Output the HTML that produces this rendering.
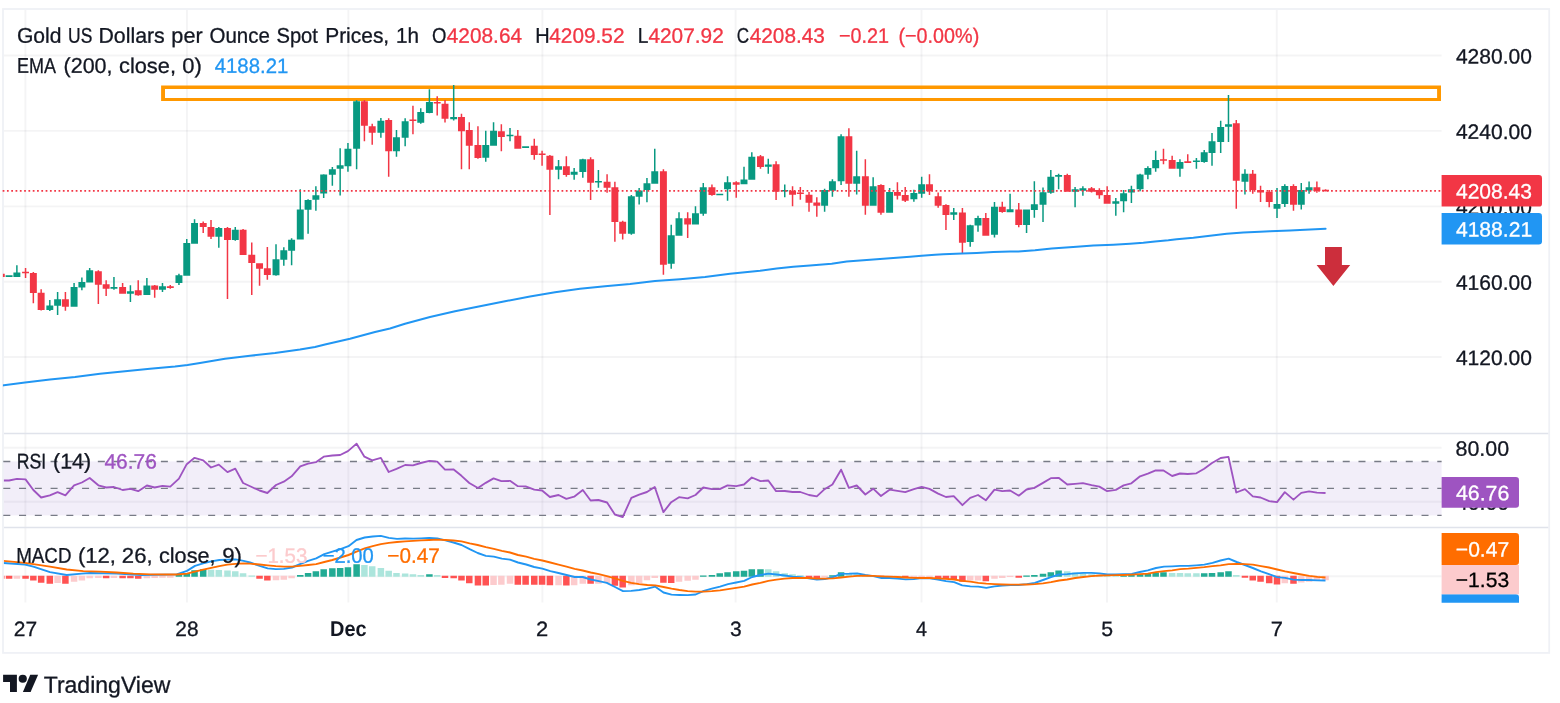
<!DOCTYPE html>
<html lang="en">
<head>
<meta charset="utf-8">
<title>Gold US Dollars per Ounce Spot Prices, 1h - TradingView</title>
<style>
html,body{margin:0;padding:0;background:#ffffff;}
body{width:1560px;height:703px;overflow:hidden;font-family:'Liberation Sans',sans-serif;}
svg{display:block;}
text{white-space:pre;}
</style>
</head>
<body>
<svg width="1560" height="703" viewBox="0 0 1560 703" font-family="'Liberation Sans', sans-serif">
<rect width="1560" height="703" fill="#ffffff"/>
<rect x="3" y="9" width="1546.2" height="643.9" fill="none" stroke="#eff1f6" stroke-width="1.8"/>
<path d="M25.4 10V602.6M186.95 10V602.6M348.35 10V602.6M542.4 10V602.6M735.6 10V602.6M921.5 10V602.6M1107 10V602.6M1276.8 10V602.6" stroke="#2a2e39" stroke-opacity="0.052" stroke-width="1.9" fill="none"/>
<path d="M4 55.5H1441.6M4 130.9H1441.6M4 206.4H1441.6M4 281.7H1441.6M4 357H1441.6M4 447.8H1441.6M4 501.7H1441.6M4 576.3H1441.6" stroke="#2a2e39" stroke-opacity="0.052" stroke-width="1.9" fill="none"/>
<path d="M4 433.5H1548.3M4 527.5H1548.3" stroke="#e0e3eb" stroke-width="1.5" fill="none"/>
<g><g transform="skewY(0.05)"><text font-size="20.8" fill="#131722" stroke="#131722" stroke-width="0.3" x="1455.93" y="62.196" textLength="75.98" lengthAdjust="spacingAndGlyphs">4280.00</text>
<text font-size="20.8" fill="#131722" stroke="#131722" stroke-width="0.3" x="1455.93" y="137.596" textLength="75.98" lengthAdjust="spacingAndGlyphs">4240.00</text>
<text font-size="20.8" fill="#131722" stroke="#131722" stroke-width="0.3" x="1455.93" y="213.096" textLength="75.98" lengthAdjust="spacingAndGlyphs">4200.00</text>
<text font-size="20.8" fill="#131722" stroke="#131722" stroke-width="0.3" x="1455.93" y="288.396" textLength="75.98" lengthAdjust="spacingAndGlyphs">4160.00</text>
<text font-size="20.8" fill="#131722" stroke="#131722" stroke-width="0.3" x="1455.93" y="363.696" textLength="75.98" lengthAdjust="spacingAndGlyphs">4120.00</text>
<text font-size="20.8" fill="#131722" stroke="#131722" stroke-width="0.3" x="1455.49" y="454.506" textLength="53.74" lengthAdjust="spacingAndGlyphs">80.00</text>
<text font-size="20.8" fill="#131722" stroke="#131722" stroke-width="0.3" x="1455.92" y="508.406" textLength="53.3" lengthAdjust="spacingAndGlyphs">40.00</text></g></g>
<rect x="3.9" y="461.4" width="1437.7" height="54" fill="#7e57c2" fill-opacity="0.1"/>
<path d="M161.1 85.55H1441V101.1H161.1ZM165 88.95V97.95H1437.1V88.95Z" fill="#ff9800" fill-rule="evenodd"/>
<defs><clipPath id="cp"><rect x="2.9" y="9.9" width="1438.7" height="423"/></clipPath></defs>
<g clip-path="url(#cp)"><path d="M8.33 275.3h1.5v1.7h-1.5zM5.61 275.3h6.95v1.7h-6.95zM16.13 265.3h1.5v11.7h-1.5zM13.4 272.5h6.95v4.5h-6.95zM49.06 300h1.5v11h-1.5zM46.34 305.5h6.95v4.5h-6.95zM56.86 292h1.5v23h-1.5zM54.13 299.2h6.95v6.6h-6.95zM73.33 283h1.5v23.7h-1.5zM70.61 287h6.95v19.7h-6.95zM81.13 277.5h1.5v12.8h-1.5zM78.41 282h6.95v5.5h-6.95zM88.93 268h1.5v14.5h-1.5zM86.21 270.3h6.95v12.2h-6.95zM113.2 277h1.5v12.7h-1.5zM110.48 287h6.95v1.8h-6.95zM129.66 285.3h1.5v16.7h-1.5zM126.94 291.2h6.95v2.6h-6.95zM146.13 278h1.5v17h-1.5zM143.41 285.5h6.95v9.5h-6.95zM161.73 283h1.5v9h-1.5zM159 286.2h6.95v3.5h-6.95zM178.2 273.8h1.5v11.2h-1.5zM175.47 275.3h6.95v7.7h-6.95zM186 239h1.5v36.8h-1.5zM183.28 243h6.95v32.8h-6.95zM193.8 219.3h1.5v24.5h-1.5zM191.08 223h6.95v20.8h-6.95zM218.06 227h1.5v20.7h-1.5zM215.34 228h6.95v8.7h-6.95zM234.53 227h1.5v13.8h-1.5zM231.81 229.7h6.95v10.3h-6.95zM275.26 244.2h1.5v31.6h-1.5zM272.53 259.2h6.95v16.1h-6.95zM283.06 247.2h1.5v18.6h-1.5zM280.33 250.3h6.95v9.4h-6.95zM290.86 238.3h1.5v27h-1.5zM288.13 239.7h6.95v11.1h-6.95zM299.53 189.3h1.5v50.2h-1.5zM296.8 209.6h6.95v29.9h-6.95zM307.33 199.3h1.5v34.5h-1.5zM304.6 200h6.95v9.8h-6.95zM315.13 186.3h1.5v24.5h-1.5zM312.4 195.2h6.95v4.6h-6.95zM322.93 174.3h1.5v23.6h-1.5zM320.2 174.4h6.95v19.2h-6.95zM331.6 167h1.5v18.8h-1.5zM328.88 169.2h6.95v5.5h-6.95zM339.4 148.3h1.5v47.3h-1.5zM336.67 165.3h6.95v3.4h-6.95zM347.2 143h1.5v28.7h-1.5zM344.47 148.8h6.95v17.4h-6.95zM355.86 100.3h1.5v68.9h-1.5zM353.13 101.2h6.95v47.5h-6.95zM380.13 118h1.5v19.8h-1.5zM377.4 120.8h6.95v12h-6.95zM395.73 130h1.5v26.7h-1.5zM393 137.2h6.95v14h-6.95zM404.4 118.3h1.5v27.9h-1.5zM401.67 121.2h6.95v16.6h-6.95zM420 108.3h1.5v15.5h-1.5zM417.27 112h6.95v10.8h-6.95zM428.66 89.2h1.5v24.1h-1.5zM425.94 102h6.95v11h-6.95zM452.93 85h1.5v35.5h-1.5zM450.2 117h6.95v2.2h-6.95zM485 130.8h1.5v30.9h-1.5zM482.27 145h6.95v12.8h-6.95zM492.8 122.2h1.5v23.6h-1.5zM490.07 130.8h6.95v15h-6.95zM509.26 128h1.5v13.3h-1.5zM506.53 134.7h6.95v1.6h-6.95zM524.86 146.3h1.5v1.7h-1.5zM522.13 146.3h6.95v1.7h-6.95zM557.8 160h1.5v19.2h-1.5zM555.07 166.3h6.95v3.4h-6.95zM573.4 168h1.5v11.7h-1.5zM570.67 171.7h6.95v3h-6.95zM582.06 158.7h1.5v19.1h-1.5zM579.33 159.2h6.95v12.8h-6.95zM597.66 170h1.5v17.8h-1.5zM594.93 180.95h6.95v1.5h-6.95zM630.6 195h1.5v39.7h-1.5zM627.88 196.2h6.95v37.6h-6.95zM638.4 188h1.5v16.5h-1.5zM635.67 190.5h6.95v6.2h-6.95zM646.2 178h1.5v24.2h-1.5zM643.48 183.3h6.95v6.7h-6.95zM654 148.7h1.5v35h-1.5zM651.27 171.2h6.95v12.5h-6.95zM670.46 224.7h1.5v44.1h-1.5zM667.74 235.3h6.95v28.5h-6.95zM678.26 212.2h1.5v23.6h-1.5zM675.53 218.3h6.95v17.5h-6.95zM694.73 206.2h1.5v18.3h-1.5zM692 213.3h6.95v11.2h-6.95zM702.53 183h1.5v32.8h-1.5zM699.8 187.2h6.95v26.5h-6.95zM719 193.65h1.5v1.5h-1.5zM716.27 193.65h6.95v1.5h-6.95zM726.8 176.2h1.5v24.6h-1.5zM724.07 182.2h6.95v7h-6.95zM743.26 166.7h1.5v17.5h-1.5zM740.53 179.5h6.95v4.7h-6.95zM751.06 152.2h1.5v27.5h-1.5zM748.33 156.7h6.95v23h-6.95zM767.53 158.7h1.5v15.1h-1.5zM764.8 164.5h6.95v2.2h-6.95zM784 184.5h1.5v12.7h-1.5zM781.27 190h6.95v1.5h-6.95zM823.86 188.7h1.5v23h-1.5zM821.13 190h6.95v15.8h-6.95zM831.66 179.2h1.5v17.5h-1.5zM828.93 181.2h6.95v9.6h-6.95zM840.33 134.2h1.5v50.8h-1.5zM837.61 136.2h6.95v45.1h-6.95zM855.93 150.8h1.5v43.7h-1.5zM853.2 176.2h6.95v7.5h-6.95zM872.4 177.2h1.5v28.6h-1.5zM869.67 186.2h6.95v19.6h-6.95zM888.86 188h1.5v24.8h-1.5zM886.13 192h6.95v20.8h-6.95zM913.13 189.7h1.5v12h-1.5zM910.4 193h6.95v6.2h-6.95zM920.93 176.7h1.5v21.1h-1.5zM918.2 184.2h6.95v9.5h-6.95zM953 208h1.5v12h-1.5zM950.27 212.2h6.95v2.5h-6.95zM969.46 224.7h1.5v22h-1.5zM966.74 225.2h6.95v16.8h-6.95zM977.26 215.8h1.5v15.9h-1.5zM974.53 218h6.95v7.5h-6.95zM993.73 202h1.5v35.5h-1.5zM991 206.7h6.95v28.1h-6.95zM1009.33 193.8h1.5v18.4h-1.5zM1006.61 209.2h6.95v3h-6.95zM1025.8 209.5h1.5v23.5h-1.5zM1023.07 209.5h6.95v15.5h-6.95zM1033.6 181.3h1.5v36.5h-1.5zM1030.88 204.2h6.95v5.8h-6.95zM1042.26 187.5h1.5v34.5h-1.5zM1039.54 192.2h6.95v12.5h-6.95zM1050.06 170h1.5v23.7h-1.5zM1047.34 176.7h6.95v16.1h-6.95zM1057.86 173.8h1.5v15.4h-1.5zM1055.13 175h6.95v1.7h-6.95zM1074.33 187h1.5v20.2h-1.5zM1071.61 189.2h6.95v2.5h-6.95zM1082.13 186.3h1.5v9.5h-1.5zM1079.41 188.3h6.95v2.5h-6.95zM1115.06 198h1.5v17.8h-1.5zM1112.34 201.2h6.95v2.5h-6.95zM1122.86 190h1.5v22.2h-1.5zM1120.13 193.3h6.95v8h-6.95zM1130.66 185.8h1.5v17.2h-1.5zM1127.94 189.2h6.95v3.3h-6.95zM1139.33 173.8h1.5v17.5h-1.5zM1136.61 174.5h6.95v14.7h-6.95zM1147.13 166.3h1.5v12.9h-1.5zM1144.41 168h6.95v6.7h-6.95zM1154.93 150.8h1.5v20.9h-1.5zM1152.21 160h6.95v8.3h-6.95zM1179.2 159.2h1.5v17.5h-1.5zM1176.48 162h6.95v6.7h-6.95zM1195.66 158h1.5v10.8h-1.5zM1192.94 160.55h6.95v1.5h-6.95zM1203.46 150h1.5v12.8h-1.5zM1200.74 152.2h6.95v9.8h-6.95zM1211.26 133h1.5v32.8h-1.5zM1208.54 141.3h6.95v11.7h-6.95zM1219.93 120.8h1.5v32.2h-1.5zM1217.21 127h6.95v15h-6.95zM1227.73 95h1.5v47h-1.5zM1225.01 124.2h6.95v2.5h-6.95zM1244.2 169.2h1.5v25.3h-1.5zM1241.48 173.8h6.95v7.9h-6.95zM1276.26 188.1h1.5v29.8h-1.5zM1273.54 204h6.95v4.8h-6.95zM1284.06 184.2h1.5v22.9h-1.5zM1281.34 186.1h6.95v17.9h-6.95zM1300.53 182.9h1.5v26.7h-1.5zM1297.81 190h6.95v14.8h-6.95zM1308.33 181.5h1.5v12.3h-1.5zM1305.61 187.3h6.95v3.3h-6.95z" fill="#089981"/><path d="M0.53 273.8h1.5v3.2h-1.5zM-2.2 273.8h6.95v3.2h-6.95zM24.8 268h1.5v10h-1.5zM22.07 271.7h6.95v1.6h-6.95zM32.6 272h1.5v31.3h-1.5zM29.88 273h6.95v20h-6.95zM40.4 289.2h1.5v21.3h-1.5zM37.67 292.8h6.95v17.2h-6.95zM64.66 292h1.5v18.8h-1.5zM61.93 299.2h6.95v7.5h-6.95zM97.6 270.3h1.5v33.7h-1.5zM94.88 271.2h6.95v13.5h-6.95zM105.4 280.3h1.5v15.7h-1.5zM102.68 284.2h6.95v4.6h-6.95zM121.86 283h1.5v10.8h-1.5zM119.14 287h6.95v6.8h-6.95zM137.46 280.3h1.5v15.5h-1.5zM134.74 290.3h6.95v5h-6.95zM153.93 285h1.5v12.8h-1.5zM151.21 285.5h6.95v4.2h-6.95zM169.53 285h1.5v3.8h-1.5zM166.81 286.2h6.95v1.8h-6.95zM202.46 221.5h1.5v11.5h-1.5zM199.74 223h6.95v4h-6.95zM210.26 220h1.5v19h-1.5zM207.53 227h6.95v9.7h-6.95zM226.73 227h1.5v72h-1.5zM224 228h6.95v12h-6.95zM242.33 229h1.5v26h-1.5zM239.61 229.7h6.95v25.3h-6.95zM251 242.4h1.5v52.6h-1.5zM248.28 254.8h6.95v8.2h-6.95zM258.8 263.3h1.5v22.5h-1.5zM256.07 263.3h6.95v5.4h-6.95zM266.6 247h1.5v32.7h-1.5zM263.88 268.3h6.95v6.7h-6.95zM363.66 100h1.5v41.3h-1.5zM360.94 101.2h6.95v24.6h-6.95zM371.46 123.7h1.5v21h-1.5zM368.73 126.2h6.95v6.6h-6.95zM387.93 118.3h1.5v58.4h-1.5zM385.2 120h6.95v31.2h-6.95zM412.2 105.8h1.5v28.4h-1.5zM409.47 119.55h6.95v1.5h-6.95zM436.46 96.2h1.5v19.3h-1.5zM433.73 102h6.95v1.6h-6.95zM444.26 100h1.5v22.5h-1.5zM441.53 103.7h6.95v15.1h-6.95zM460.73 113.7h1.5v55.5h-1.5zM458 117h6.95v14.2h-6.95zM468.53 122.2h1.5v47h-1.5zM465.8 130h6.95v15.8h-6.95zM477.2 126.3h1.5v32.4h-1.5zM474.47 145h6.95v13h-6.95zM500.6 124.2h1.5v27.1h-1.5zM497.88 131.2h6.95v5.8h-6.95zM517.06 130h1.5v18.7h-1.5zM514.33 135.8h6.95v12.9h-6.95zM533.53 138.7h1.5v21h-1.5zM530.8 145.8h6.95v9.2h-6.95zM541.33 150.8h1.5v15h-1.5zM538.61 153.4h6.95v1.6h-6.95zM549.13 155h1.5v60h-1.5zM546.4 155.8h6.95v13.9h-6.95zM565.6 156.3h1.5v20.4h-1.5zM562.88 166.2h6.95v8.8h-6.95zM589.86 157.2h1.5v42.8h-1.5zM587.13 159.2h6.95v23.6h-6.95zM606.33 174.2h1.5v18.6h-1.5zM603.61 181.7h6.95v6.1h-6.95zM614.13 181.7h1.5v60h-1.5zM611.4 187.3h6.95v34.7h-6.95zM621.93 220.8h1.5v18.7h-1.5zM619.2 221.7h6.95v12.1h-6.95zM662.66 169.2h1.5v105.5h-1.5zM659.93 171.2h6.95v93.5h-6.95zM686.93 212.2h1.5v25.8h-1.5zM684.2 218.3h6.95v6.2h-6.95zM711.2 184.5h1.5v11.3h-1.5zM708.48 187.2h6.95v7.8h-6.95zM735.46 181.3h1.5v16.5h-1.5zM732.74 182.2h6.95v2.5h-6.95zM759.73 155h1.5v13.8h-1.5zM757 156.3h6.95v10.7h-6.95zM775.33 161.3h1.5v38.7h-1.5zM772.61 164.2h6.95v27.5h-6.95zM791.8 186.3h1.5v19.9h-1.5zM789.07 190.8h6.95v3.9h-6.95zM799.6 187h1.5v12.7h-1.5zM796.88 192.55h6.95v1.5h-6.95zM808.26 192h1.5v19.7h-1.5zM805.53 194.7h6.95v8.1h-6.95zM816.06 197.2h1.5v19.5h-1.5zM813.33 202.5h6.95v3.3h-6.95zM848.13 128.3h1.5v68.4h-1.5zM845.4 136.2h6.95v47.5h-6.95zM864.6 159.2h1.5v55.5h-1.5zM861.88 176.2h6.95v29.6h-6.95zM880.2 184.2h1.5v30.5h-1.5zM877.48 185h6.95v27.8h-6.95zM896.66 182.2h1.5v17.3h-1.5zM893.93 192h6.95v3.8h-6.95zM904.46 187h1.5v15h-1.5zM901.74 195h6.95v5.8h-6.95zM928.73 174.2h1.5v20.8h-1.5zM926 184.2h6.95v7h-6.95zM937.4 192.5h1.5v15.3h-1.5zM934.67 196.2h6.95v9.6h-6.95zM945.2 204.2h1.5v25.8h-1.5zM942.48 205h6.95v10h-6.95zM961.66 208h1.5v45.3h-1.5zM958.93 212.4h6.95v30.4h-6.95zM985.06 213h1.5v22.8h-1.5zM982.33 218h6.95v17.8h-6.95zM1001.53 201.7h1.5v11.1h-1.5zM998.8 206.7h6.95v5.3h-6.95zM1018 203h1.5v24.2h-1.5zM1015.27 209.5h6.95v15.5h-6.95zM1066.53 173.8h1.5v17.9h-1.5zM1063.81 175h6.95v16.7h-6.95zM1090.8 187h1.5v5.5h-1.5zM1088.08 188.3h6.95v3.4h-6.95zM1098.6 188.3h1.5v10.4h-1.5zM1095.88 190h6.95v5.3h-6.95zM1106.4 186.3h1.5v17.4h-1.5zM1103.68 195h6.95v8.7h-6.95zM1162.73 148.7h1.5v15.5h-1.5zM1160.01 159.2h6.95v1.6h-6.95zM1171.4 155.8h1.5v12.9h-1.5zM1168.68 160h6.95v8.7h-6.95zM1187 154.2h1.5v8.8h-1.5zM1184.28 161.3h6.95v1.7h-6.95zM1235.53 120h1.5v88.7h-1.5zM1232.81 123.3h6.95v57.5h-6.95zM1252 170h1.5v23.7h-1.5zM1249.28 173.8h6.95v16.2h-6.95zM1259.8 185.8h1.5v16.2h-1.5zM1257.08 190h6.95v2.5h-6.95zM1268.46 190h1.5v17.2h-1.5zM1265.74 191.7h6.95v10.3h-6.95zM1292.73 184.2h1.5v26.6h-1.5zM1290.01 186.1h6.95v18.7h-6.95zM1316.13 181.5h1.5v11.2h-1.5zM1313.41 187.3h6.95v3.7h-6.95zM1324.8 189.2h1.5v2.4h-1.5zM1322.08 189.65h6.95v1.5h-6.95z" fill="#f23645"/></g>
<polyline clip-path="url(#cp)" points="1.3,385.7 25,382.5 50,379.5 75,377 100,373.8 125,371.3 150,368.8 175,366.5 187.5,365 200,363 225,358.8 250,355.8 275,353 300,349.5 315,347 325,344.5 350,338.8 375,332 390,328.5 405,323.8 430,317 455,311.3 480,306.3 505,301.3 530,296.5 555,292.3 580,288.8 605,286.2 630,283.9 655,281 680,279.2 705,277 730,273.8 755,271.2 760,270.8 776.7,268.5 793.3,266.8 810,265.5 831.7,263.7 846.7,261.5 860,260.5 876.7,259.2 893.3,258 910,256.7 921.7,255.8 935,254.7 943.3,254.2 962.2,253.6 976.7,253 993.3,252.1 1010,251.6 1018.3,251.5 1035,250.3 1051.7,248.4 1076.7,246.7 1093.3,245.5 1113.3,244.7 1130,243.7 1143.3,242.8 1155,241.4 1168.3,240.3 1176.7,239.3 1193.3,237.8 1210,235.8 1226.7,233.7 1243.3,232.5 1260,231.7 1270,231.2 1290,230.5 1300,230 1325.6,228.8" fill="none" stroke="#2196f3" stroke-width="2" stroke-linejoin="round" stroke-linecap="round"/>
<path d="M2.65 190.8H1441.6" stroke="#f23645" stroke-width="1.7" stroke-dasharray="1.75 2.549" fill="none"/>
<path d="M1325 246.95H1341.9V264.9H1350.2L1333.4 286.1L1316.6 264.9H1325Z" fill="#cc2e3c"/>
<path d="M3.3 461.5H1441.6M3.3 488.35H1441.6M3.3 515.4H1441.6" stroke="#787b86" stroke-width="1.4" stroke-dasharray="7 8.758" fill="none"/>
<defs><clipPath id="cp1"><rect x="3.9" y="434" width="1437.7" height="93"/></clipPath></defs>
<polyline clip-path="url(#cp1)" points="1.28,480.5 9.08,480.5 16.88,478.83 25.55,479.33 33.35,490 41.15,497.5 49.81,495.33 57.61,492.17 65.41,495.33 74.08,485.33 81.88,482.5 89.68,478 98.35,485.33 106.15,487.5 113.95,487 122.61,490 130.41,488.83 138.21,491.17 146.88,485.5 154.68,487.5 162.48,485.83 170.28,486.67 178.95,478.67 186.75,464.17 194.55,457.83 203.21,460.33 211.01,467.5 218.81,464.67 227.48,472.17 235.28,468.67 243.08,483 251.75,487 259.55,490.5 267.35,493 276.01,485 283.81,481.67 291.61,476.33 300.28,466.33 308.08,463.67 315.88,462.17 323.68,456.67 332.35,455.5 340.15,455 347.95,451.17 356.61,443.67 364.41,456.67 372.21,460.33 380.88,457.83 388.68,472 396.48,468.83 405.15,465 412.95,465.33 420.75,463 429.41,460.83 437.21,461.67 445.01,469.67 453.68,469.5 461.48,475.83 469.28,483 477.95,488 485.75,482.83 493.55,478.33 501.35,481.17 510.01,480.83 517.81,486.17 525.61,486.33 534.28,489.67 542.08,490.5 549.88,497 558.55,495 566.35,498.83 574.15,496.67 582.81,490 590.61,500.5 598.41,500 607.08,502.5 614.88,514.5 622.68,517.17 631.35,497.83 639.15,494.67 646.95,492 654.75,487 663.41,512.17 671.21,502.17 679.01,497.17 687.68,498.33 695.48,495 703.28,487.5 711.95,489.17 719.75,489.17 727.55,485.33 736.21,486.17 744.01,484.5 751.81,477.5 760.48,481.17 768.28,480.5 776.08,491.17 784.75,491 792.55,492 800.35,492 809.01,495 816.81,496.33 824.61,489.17 832.41,484.5 841.08,469.67 848.88,487.83 856.68,485.5 865.35,494.5 873.15,488.67 880.95,496 889.61,489.67 897.41,490.83 905.21,492.17 913.88,489.17 921.68,486.83 929.48,488.83 938.15,493.67 945.95,497 953.75,496.17 962.41,505.17 970.21,497.83 978.01,495 985.81,500.33 994.48,489.67 1002.28,491.17 1010.08,490.5 1018.75,495.67 1026.55,489.5 1034.35,487.83 1043.01,482.83 1050.81,478.17 1058.61,477.83 1067.28,484.5 1075.08,483.83 1082.88,483.17 1091.55,485.17 1099.35,486.67 1107.15,491.17 1115.81,489.83 1123.61,485.33 1131.41,483.33 1140.08,476.33 1147.88,473.67 1155.68,470.33 1163.48,470.5 1172.15,476 1179.95,473.5 1187.75,474 1196.41,473.33 1204.21,468.67 1212.01,463 1220.68,458 1228.48,456.83 1236.28,492.5 1244.95,489.17 1252.75,496.33 1260.55,497.5 1269.21,501.17 1277.01,502.17 1284.81,492.17 1293.48,499.67 1301.28,492.83 1309.08,491.33 1316.88,492.67 1325.55,493" fill="none" stroke="#9e54c1" stroke-width="1.85" stroke-linejoin="round"/>
<g clip-path="url(#cp2)">
<defs><clipPath id="cp2"><rect x="3.9" y="528" width="1437.7" height="75"/></clipPath></defs>
<path d="M13.63 575.85h6.5v2.82h-6.5zM54.36 575.85h6.5v7.15h-6.5zM70.83 575.85h6.5v5.82h-6.5zM78.63 575.85h6.5v4.65h-6.5zM86.43 575.85h6.5v2.48h-6.5zM95.1 575.85h6.5v2.15h-6.5zM110.7 575.85h6.5v2.15h-6.5zM143.63 575.85h6.5v2.48h-6.5zM151.43 575.85h6.5v2.15h-6.5zM159.23 575.85h6.5v1.82h-6.5zM167.03 575.85h6.5v1.82h-6.5zM272.76 575.85h6.5v4.48h-6.5zM280.56 575.85h6.5v3.82h-6.5zM288.36 575.85h6.5v2.48h-6.5zM490.3 575.85h6.5v9.15h-6.5zM498.1 575.85h6.5v8.82h-6.5zM506.76 575.85h6.5v7.82h-6.5zM555.3 575.85h6.5v9.48h-6.5zM570.9 575.85h6.5v9.48h-6.5zM579.56 575.85h6.5v7.82h-6.5zM595.16 575.85h6.5v7.82h-6.5zM603.83 575.85h6.5v7.15h-6.5zM628.1 575.85h6.5v9.48h-6.5zM635.9 575.85h6.5v7.48h-6.5zM643.7 575.85h6.5v4.48h-6.5zM651.5 575.85h6.5v2.15h-6.5zM675.76 575.85h6.5v5.82h-6.5zM684.43 575.85h6.5v4.98h-6.5zM692.23 575.85h6.5v3.82h-6.5zM821.36 575.85h6.5v1.65h-6.5zM886.36 575.85h6.5v1.32h-6.5zM894.16 575.85h6.5v1.2h-6.5zM910.63 575.85h6.5v1.32h-6.5zM918.43 575.85h6.5v1.32h-6.5zM926.23 575.85h6.5v1.32h-6.5zM966.96 575.85h6.5v4.65h-6.5zM974.76 575.85h6.5v4.65h-6.5zM991.23 575.85h6.5v2.82h-6.5zM999.03 575.85h6.5v2.15h-6.5zM1006.83 575.85h6.5v1.2h-6.5zM1281.56 575.85h6.5v7.48h-6.5zM1298.03 575.85h6.5v6.65h-6.5zM1305.83 575.85h6.5v5.82h-6.5zM1313.63 575.85h6.5v4.98h-6.5zM1322.3 575.85h6.5v4.48h-6.5z" fill="#fccbcd"/>
<path d="M207.76 569.67h6.5v6.98h-6.5zM215.56 570h6.5v6.65h-6.5zM224.23 570.5h6.5v6.15h-6.5zM232.03 571.17h6.5v5.48h-6.5zM239.83 573.33h6.5v3.32h-6.5zM248.5 575.45h6.5v1.2h-6.5zM361.16 565h6.5v11.65h-6.5zM368.96 566.17h6.5v10.48h-6.5zM377.63 568h6.5v8.65h-6.5zM385.43 570.83h6.5v5.82h-6.5zM393.23 573h6.5v3.65h-6.5zM401.9 573.5h6.5v3.15h-6.5zM409.7 574.17h6.5v2.48h-6.5zM417.5 575h6.5v1.65h-6.5zM433.96 575h6.5v1.65h-6.5zM765.03 569.17h6.5v7.48h-6.5zM772.83 571.33h6.5v5.32h-6.5zM781.5 573.33h6.5v3.32h-6.5zM789.3 574.17h6.5v2.48h-6.5zM797.1 575.33h6.5v1.32h-6.5zM845.63 573.33h6.5v3.32h-6.5zM853.43 574.17h6.5v2.48h-6.5zM862.1 575.17h6.5v1.48h-6.5zM869.9 575.45h6.5v1.2h-6.5zM1064.03 571.33h6.5v5.32h-6.5zM1071.83 572.5h6.5v4.15h-6.5zM1079.63 573.33h6.5v3.32h-6.5zM1088.3 574.17h6.5v2.48h-6.5zM1096.1 575h6.5v1.65h-6.5zM1103.9 575.45h6.5v1.2h-6.5zM1112.56 575.45h6.5v1.2h-6.5zM1168.9 573h6.5v3.65h-6.5zM1176.7 573h6.5v3.65h-6.5zM1184.5 573.33h6.5v3.32h-6.5zM1193.16 573.33h6.5v3.32h-6.5zM1233.03 575h6.5v1.65h-6.5z" fill="#ace5dc"/>
<path d="M-1.97 575.85h6.5v2.82h-6.5zM5.83 575.85h6.5v2.82h-6.5zM22.3 575.85h6.5v2.82h-6.5zM30.1 575.85h6.5v4.65h-6.5zM37.9 575.85h6.5v6.98h-6.5zM46.56 575.85h6.5v7.82h-6.5zM62.16 575.85h6.5v7.82h-6.5zM102.9 575.85h6.5v2.48h-6.5zM119.36 575.85h6.5v2.48h-6.5zM127.16 575.85h6.5v2.48h-6.5zM134.96 575.85h6.5v2.98h-6.5zM256.3 575.85h6.5v2.82h-6.5zM264.1 575.85h6.5v4.65h-6.5zM441.76 575.85h6.5v2.15h-6.5zM450.43 575.85h6.5v2.48h-6.5zM458.23 575.85h6.5v4.65h-6.5zM466.03 575.85h6.5v7.48h-6.5zM474.7 575.85h6.5v9.65h-6.5zM482.5 575.85h6.5v9.65h-6.5zM514.56 575.85h6.5v8.82h-6.5zM522.36 575.85h6.5v8.82h-6.5zM531.03 575.85h6.5v8.82h-6.5zM538.83 575.85h6.5v8.82h-6.5zM546.63 575.85h6.5v9.48h-6.5zM563.1 575.85h6.5v9.65h-6.5zM587.36 575.85h6.5v7.82h-6.5zM611.63 575.85h6.5v9.98h-6.5zM619.43 575.85h6.5v11.65h-6.5zM660.16 575.85h6.5v6.98h-6.5zM667.96 575.85h6.5v7.15h-6.5zM805.76 575.85h6.5v2.15h-6.5zM813.56 575.85h6.5v2.48h-6.5zM877.7 575.85h6.5v1.65h-6.5zM901.96 575.85h6.5v1.82h-6.5zM934.9 575.85h6.5v2.82h-6.5zM942.7 575.85h6.5v3.32h-6.5zM950.5 575.85h6.5v3.82h-6.5zM959.16 575.85h6.5v5.82h-6.5zM982.56 575.85h6.5v5.32h-6.5zM1015.5 575.85h6.5v1.98h-6.5zM1241.7 575.85h6.5v1.98h-6.5zM1249.5 575.85h6.5v4.65h-6.5zM1257.3 575.85h6.5v5.82h-6.5zM1265.96 575.85h6.5v7.48h-6.5zM1273.76 575.85h6.5v8.65h-6.5zM1290.23 575.85h6.5v7.98h-6.5z" fill="#ff5252"/>
<path d="M175.7 574.67h6.5v1.98h-6.5zM183.5 573.33h6.5v3.32h-6.5zM191.3 570.33h6.5v6.32h-6.5zM199.96 569.17h6.5v7.48h-6.5zM297.03 575h6.5v1.65h-6.5zM304.83 573h6.5v3.65h-6.5zM312.63 571.33h6.5v5.32h-6.5zM320.43 569.17h6.5v7.48h-6.5zM329.1 568.33h6.5v8.32h-6.5zM336.9 568h6.5v8.65h-6.5zM344.7 567.17h6.5v9.48h-6.5zM353.36 564.17h6.5v12.48h-6.5zM426.16 574.17h6.5v2.48h-6.5zM700.03 575.45h6.5v1.2h-6.5zM708.7 575h6.5v1.65h-6.5zM716.5 573.33h6.5v3.32h-6.5zM724.3 572.17h6.5v4.48h-6.5zM732.96 571.33h6.5v5.32h-6.5zM740.76 570.83h6.5v5.82h-6.5zM748.56 569.17h6.5v7.48h-6.5zM757.23 569.17h6.5v7.48h-6.5zM829.16 575.33h6.5v1.32h-6.5zM837.83 572.17h6.5v4.48h-6.5zM1023.3 575.45h6.5v1.2h-6.5zM1031.1 575h6.5v1.65h-6.5zM1039.76 573.67h6.5v2.98h-6.5zM1047.56 572.17h6.5v4.48h-6.5zM1055.36 570.5h6.5v6.15h-6.5zM1120.36 575.45h6.5v1.2h-6.5zM1128.16 575h6.5v1.65h-6.5zM1136.83 574.17h6.5v2.48h-6.5zM1144.63 573.33h6.5v3.32h-6.5zM1152.43 572.5h6.5v4.15h-6.5zM1160.23 572.17h6.5v4.48h-6.5zM1200.96 573.33h6.5v3.32h-6.5zM1208.76 573h6.5v3.65h-6.5zM1217.43 572.17h6.5v4.48h-6.5zM1225.23 571.17h6.5v5.48h-6.5z" fill="#22ab94"/>
<polyline points="3.33,563 25,564.5 33.33,566.67 50,572.17 66.67,575 81.67,573.67 90,573 116.67,573.67 141.67,575 166.67,574.67 176.67,574.33 187,570.83 195,565.83 203.17,563.33 211.17,561.33 219.33,560 227.33,559.67 235.5,559.33 243.5,560.83 250,562.5 259.67,565.83 267.67,568.33 275.83,569.17 283.83,568.83 292,567.5 300,564.17 308.17,560.83 316.17,558.33 324.33,554.17 332.33,551.67 340.5,549.17 348.5,546.17 356.5,540 364.67,537.5 372.67,536.5 380.83,535.83 388.83,537.83 397,538.83 405,538.5 413.17,538.67 421.17,538.33 429.17,537.83 437.33,538.33 445.33,540.33 453.5,542.5 461.5,545 469.67,549.17 477.67,553 485.83,555.83 493.83,556.67 501.83,558.67 510,559.67 518,562.5 526.17,564.5 534.17,567 542.33,568.67 550.33,571.17 558.5,573 566.5,575 574.67,577 582.67,577 590.67,579.5 598.83,581.17 606.83,582.83 615,587 623,591.17 631.17,590.83 639.17,590 647.33,588.67 655.33,586.67 663.5,592.5 671.5,594.67 679.5,595 687.67,595.17 695.67,594.5 703.83,590.83 711.83,588.67 720,586.67 728,584.17 736.17,582.5 744.17,580.83 752.17,577 760.33,575 768.33,573.67 776.5,574.5 784.5,575.5 792.67,576.67 800.67,577.17 808.83,578.33 816.83,579.67 824.83,579.17 833,577.17 841,573.83 849.17,573.67 857.17,573.33 865.33,575 873.33,576.17 881.5,578 889.5,578 897.67,578.67 905.67,579.33 913.67,579.17 921.83,578 929.83,578.33 938,579.5 946,581.17 954.17,582.17 962.17,585.33 970.33,586.33 978.33,586.67 986.33,587.83 994.5,586.33 1002.5,585.5 1010.67,585 1018.67,585 1026.83,584.17 1034.83,582.83 1043,580 1051,577.17 1059.17,574.5 1067.17,574.17 1075.17,573.33 1083.33,572.83 1091.33,572.83 1099.5,573.33 1107.5,574.5 1115.67,574.5 1123.67,574.17 1131.83,573.83 1139.83,572 1147.83,570.33 1156,568 1164,566.67 1172.17,566.33 1180.17,565.83 1188.33,565.83 1196.33,565.33 1204.33,564.67 1212.5,562.83 1220.5,560.5 1228.67,558.67 1236.67,562 1244.83,565 1252.83,568 1261,571.33 1269,574.17 1277.17,577.17 1285.17,577.83 1293.33,579.67 1301.33,580 1309.33,580 1317.5,580.33 1325.5,580.5" fill="none" stroke="#2196f3" stroke-width="1.9" stroke-linejoin="round"/>
<polyline points="3.33,560.83 25,562.83 33.33,564.17 50,566.67 66.67,569.5 83.33,571.17 100,571.67 116.67,572.5 133.33,573.67 150,574.33 166.67,574.5 176.67,574.5 187,573.67 195,571.67 203.17,569.67 211.17,567.83 219.33,566.17 227.33,564.67 235.5,563.83 243.5,563.33 250,563.67 259.67,564.5 267.67,565.33 275.83,566.17 283.83,566.67 292,566.67 300,565.83 308.17,565 316.17,564.17 324.33,562 332.33,560 340.5,557.5 348.5,555 356.5,551.67 364.67,548.33 372.67,546.17 380.83,544.17 388.83,542.83 397,542 405,541.33 413.17,540.83 421.17,540.33 429.17,540 437.33,539.67 445.33,540 453.5,540.5 461.5,541.33 469.67,543.33 477.67,545 485.83,547.17 493.83,548.83 501.83,550.83 510,552.5 518,555 526.17,556.67 534.17,558.83 542.33,560.5 550.33,562.5 558.5,564.67 566.5,566.67 574.67,568.83 582.67,570.5 590.67,572.5 598.83,574.17 606.83,576.17 615,578.33 623,580.83 631.17,582.83 639.17,584.17 647.33,585 655.33,585.33 663.5,587 671.5,588.67 679.5,590 687.67,591.17 695.67,591.67 703.83,591.67 711.83,591.17 720,590.33 728,589.17 736.17,587.83 744.17,586.67 752.17,584.5 760.33,582.83 768.33,580.83 776.5,579.67 784.5,578.67 792.67,578 800.67,577.83 808.83,578 816.83,578.67 824.83,578.67 833,578.33 841,577.5 849.17,576.67 857.17,575.83 865.33,575.67 873.33,575.83 881.5,576.33 889.5,576.67 897.67,577 905.67,577.5 913.67,577.83 921.83,578 929.83,578 938,578.33 946,578.83 954.17,579.5 962.17,580.83 970.33,581.67 978.33,582.83 986.33,583.67 994.5,584.17 1002.5,584.5 1010.67,584.67 1018.67,584.67 1026.83,584.5 1034.83,584.17 1043,583.33 1051,582.17 1059.17,580.5 1067.17,579.5 1075.17,578 1083.33,577 1091.33,576.17 1099.5,575.5 1107.5,575.33 1115.67,575.17 1123.67,575 1131.83,574.67 1139.83,574.17 1147.83,573.67 1156,572.17 1164,571.17 1172.17,570.33 1180.17,569.17 1188.33,568.67 1196.33,567.83 1204.33,567.17 1212.5,566.17 1220.5,565.33 1228.67,564.17 1236.67,563.83 1244.83,564.17 1252.83,564.67 1261,566.17 1269,567.5 1277.17,569.5 1285.17,571.33 1293.33,573 1301.33,574.5 1309.33,575.83 1317.5,576.83 1325.5,577.5" fill="none" stroke="#ff6d00" stroke-width="1.9" stroke-linejoin="round"/>
</g>
<g><g transform="skewY(0.05)"><text font-size="21.3" fill="#131722" stroke="#131722" stroke-width="0.3"><tspan x="16.9" y="42.816" textLength="44.54" lengthAdjust="spacingAndGlyphs">Gold</tspan> <tspan x="68.04" y="42.78" textLength="24.24" lengthAdjust="spacingAndGlyphs">US</tspan> <tspan x="98.44" y="42.735" textLength="66.35" lengthAdjust="spacingAndGlyphs">Dollars</tspan> <tspan x="171.35" y="42.686" textLength="31.28" lengthAdjust="spacingAndGlyphs">per</tspan> <tspan x="209.53" y="42.641" textLength="60.37" lengthAdjust="spacingAndGlyphs">Ounce</tspan> <tspan x="276.44" y="42.59" textLength="41.46" lengthAdjust="spacingAndGlyphs">Spot</tspan> <tspan x="325.17" y="42.538" textLength="64.02" lengthAdjust="spacingAndGlyphs">Prices,</tspan> <tspan x="396.1" y="42.494" textLength="23.02" lengthAdjust="spacingAndGlyphs">1h</tspan></text>
<text font-size="21.3" fill="#131722" stroke="#131722" stroke-width="0.3" x="432.12" y="42.467" textLength="14.42" lengthAdjust="spacingAndGlyphs">O</text>
<text font-size="20.8" fill="#f23645" stroke="#f23645" stroke-width="0.3" x="446.73" y="42.427" textLength="75.36" lengthAdjust="spacingAndGlyphs">4208.64</text>
<text font-size="21.3" fill="#131722" stroke="#131722" stroke-width="0.3" x="535.25" y="42.377" textLength="14.44" lengthAdjust="spacingAndGlyphs">H</text>
<text font-size="20.8" fill="#f23645" stroke="#f23645" stroke-width="0.3" x="549.23" y="42.338" textLength="75.28" lengthAdjust="spacingAndGlyphs">4209.52</text>
<text font-size="21.3" fill="#131722" stroke="#131722" stroke-width="0.3" x="637.82" y="42.288" textLength="10.62" lengthAdjust="spacingAndGlyphs">L</text>
<text font-size="20.8" fill="#f23645" stroke="#f23645" stroke-width="0.3" x="648.43" y="42.251" textLength="75.38" lengthAdjust="spacingAndGlyphs">4207.92</text>
<text font-size="21.3" fill="#131722" stroke="#131722" stroke-width="0.3" x="736.79" y="42.202" textLength="12.4" lengthAdjust="spacingAndGlyphs">C</text>
<text font-size="20.8" fill="#f23645" stroke="#f23645" stroke-width="0.3" x="749.73" y="42.163" textLength="75.17" lengthAdjust="spacingAndGlyphs">4208.43</text>
<text font-size="20.8" fill="#f23645" stroke="#f23645" stroke-width="0.3" x="838.96" y="42.096" textLength="50.11" lengthAdjust="spacingAndGlyphs">−0.21</text>
<text font-size="20.8" fill="#f23645" stroke="#f23645" stroke-width="0.3" x="898.46" y="42.031" textLength="80.83" lengthAdjust="spacingAndGlyphs">(−0.00%)</text>
<text font-size="21.3" fill="#131722" stroke="#131722" stroke-width="0.3"><tspan x="17.01" y="72.867" textLength="38.99" lengthAdjust="spacingAndGlyphs">EMA</tspan> <tspan x="63.56" y="72.823" textLength="48.98" lengthAdjust="spacingAndGlyphs">(200,</tspan> <tspan x="118.98" y="72.772" textLength="56.99" lengthAdjust="spacingAndGlyphs">close,</tspan> <tspan x="182.38" y="72.733" textLength="19.54" lengthAdjust="spacingAndGlyphs">0)</tspan></text>
<text font-size="20.8" fill="#2196f3" stroke="#2196f3" stroke-width="0.3" x="214.74" y="72.681" textLength="73.55" lengthAdjust="spacingAndGlyphs">4188.21</text>
<text font-size="21.3" fill="#131722" stroke="#131722" stroke-width="0.3"><tspan x="16.74" y="468.473" textLength="29.36" lengthAdjust="spacingAndGlyphs">RSI</tspan> <tspan x="53.07" y="468.437" textLength="38.02" lengthAdjust="spacingAndGlyphs">(14)</tspan></text>
<text font-size="20.8" fill="#9e54c1" stroke="#9e54c1" stroke-width="0.3" x="104.43" y="468.386" textLength="52.48" lengthAdjust="spacingAndGlyphs">46.76</text>
<text font-size="21.3" fill="#131722" stroke="#131722" stroke-width="0.3"><tspan x="16.14" y="562.761" textLength="55.39" lengthAdjust="spacingAndGlyphs">MACD</tspan> <tspan x="78.03" y="562.716" textLength="37.96" lengthAdjust="spacingAndGlyphs">(12,</tspan> <tspan x="121.84" y="562.681" textLength="30.75" lengthAdjust="spacingAndGlyphs">26,</tspan> <tspan x="158.98" y="562.637" textLength="56.57" lengthAdjust="spacingAndGlyphs">close,</tspan> <tspan x="222.15" y="562.598" textLength="19.79" lengthAdjust="spacingAndGlyphs">9)</tspan></text>
<text font-size="20.8" fill="#fccbcd" stroke="#fccbcd" stroke-width="0.3" x="255.43" y="562.554" textLength="51.87" lengthAdjust="spacingAndGlyphs">−1.53</text>
<text font-size="20.8" fill="#2196f3" stroke="#2196f3" stroke-width="0.3" x="322.64" y="562.496" textLength="51.14" lengthAdjust="spacingAndGlyphs">−2.00</text>
<text font-size="20.8" fill="#ff6d00" stroke="#ff6d00" stroke-width="0.3" x="387.32" y="562.439" textLength="52.49" lengthAdjust="spacingAndGlyphs">−0.47</text></g></g>
<path d="M1441.6 175H1538.8Q1542 175 1542 178.2V203.4Q1542 206.6 1538.8 206.6H1441.6Z" fill="#f23645"/>
<path d="M1441.6 213H1538.8Q1542 213 1542 216.2V241.3Q1542 244.5 1538.8 244.5H1441.6Z" fill="#2196f3"/>
<path d="M1441.6 477H1515.8Q1519 477 1519 480.2V504.6Q1519 507.8 1515.8 507.8H1441.6Z" fill="#9e54c1"/>
<path d="M1441.6 594.3H1515.8Q1519 594.3 1519 597.5V602.8H1441.6Z" fill="#2196f3"/>
<path d="M1441.6 564.9H1519V594.3H1441.6Z" fill="#fccbcd"/>
<path d="M1441.6 533.1H1515.8Q1519 533.1 1519 536.3V561.7Q1519 564.9 1515.8 564.9H1441.6Z" fill="#ff6d00"/>
<g><g transform="skewY(0.05)"><text font-size="20.8" fill="#ffffff" stroke="#ffffff" stroke-width="0.3" x="1455.93" y="197.246" textLength="76.09" lengthAdjust="spacingAndGlyphs">4208.43</text>
<text font-size="20.8" fill="#ffffff" stroke="#ffffff" stroke-width="0.3" x="1455.93" y="235.196" textLength="76.19" lengthAdjust="spacingAndGlyphs">4188.21</text>
<text font-size="20.8" fill="#ffffff" stroke="#ffffff" stroke-width="0.3" x="1455.92" y="498.856" textLength="53.41" lengthAdjust="spacingAndGlyphs">46.76</text>
<text font-size="20.8" fill="#ffffff" stroke="#ffffff" stroke-width="0.3" x="1455.8" y="555.206" textLength="53.42" lengthAdjust="spacingAndGlyphs">−0.47</text>
<text font-size="20.8" fill="#000000" stroke="#000000" stroke-width="0.3" x="1455.8" y="585.706" textLength="53.32" lengthAdjust="spacingAndGlyphs">−1.53</text></g></g>
<g><g transform="skewY(0.05)"><text font-size="20.8" fill="#131722" stroke="#131722" stroke-width="0.3" x="13.8" y="635.878" textLength="23.32" lengthAdjust="spacingAndGlyphs">27</text>
<text font-size="20.8" fill="#131722" stroke="#131722" stroke-width="0.3" x="175.31" y="635.737" textLength="23.2" lengthAdjust="spacingAndGlyphs">28</text>
<text font-size="21.3" fill="#131722" stroke="#131722" stroke-width="0" font-weight="bold" x="330.06" y="635.596" textLength="36.51" lengthAdjust="spacingAndGlyphs">Dec</text>
<text font-size="20.8" fill="#131722" stroke="#131722" stroke-width="0.3" x="535.95" y="635.427" textLength="12.21" lengthAdjust="spacingAndGlyphs">2</text>
<text font-size="20.8" fill="#131722" stroke="#131722" stroke-width="0.3" x="730.01" y="635.258" textLength="11.7" lengthAdjust="spacingAndGlyphs">3</text>
<text font-size="20.8" fill="#131722" stroke="#131722" stroke-width="0.3" x="915.95" y="635.096" textLength="11.01" lengthAdjust="spacingAndGlyphs">4</text>
<text font-size="20.8" fill="#131722" stroke="#131722" stroke-width="0.3" x="1101.3" y="634.934" textLength="11.83" lengthAdjust="spacingAndGlyphs">5</text>
<text font-size="20.8" fill="#131722" stroke="#131722" stroke-width="0.3" x="1270.65" y="634.786" textLength="12.21" lengthAdjust="spacingAndGlyphs">7</text></g></g>
<g fill="#131722"><path d="M3.1 674.75H16.9V691.9H10V681.9H3.1Z"/><circle cx="22.75" cy="678.75" r="4.1"/><path d="M30.25 674.75H38.1L30.6 691.9H22.9Z"/></g>
<g transform="skewY(0.05)"><text font-size="23.2" fill="#131722" stroke="#131722" stroke-width="0.3" x="43.69" y="692.606" textLength="126.7" lengthAdjust="spacingAndGlyphs">TradingView</text></g>
</svg>
</body>
</html>
